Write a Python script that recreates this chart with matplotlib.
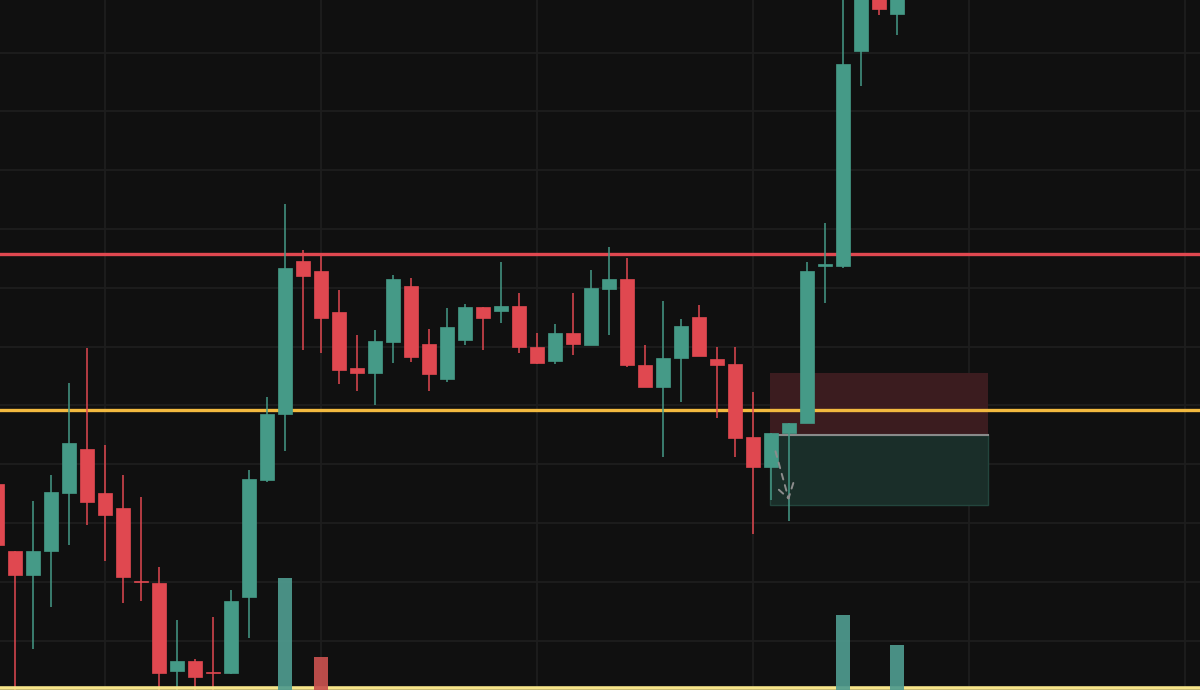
import matplotlib

matplotlib.use("Agg")
import matplotlib.pyplot as plt
import numpy as np
from matplotlib.patches import Rectangle

# OHLC values (price units, gridlines every 10)
opens = [1026.7, 1015.2, 1011.1, 1015.3, 1025.1, 1032.6, 1025.1, 1022.6, 1010.2, 1009.8,
         994.9, 996.6, 994.7, 994.5, 1007.4, 1027.4, 1038.5, 1064.6, 1062.8, 1055.9,
         1046.4, 1045.5, 1050.8, 1060.4, 1050.5, 1044.5, 1051.2, 1056.8, 1056.1, 1057.0,
         1050.0, 1047.6, 1052.4, 1050.3, 1059.8, 1061.5, 1046.9, 1043.2, 1048.0, 1055.1,
         1047.9, 1047.1, 1034.6, 1029.6, 1035.4, 1037.1, 1063.8, 1063.8, 1100.3, 1112.4,
         1106.6]
highs = [1027.7, 1015.3, 1023.8, 1028.1, 1043.8, 1049.8, 1033.3, 1028.2, 1024.5, 1012.5,
         1003.6, 996.9, 1004.1, 1008.7, 1029.1, 1041.4, 1074.3, 1066.4, 1065.6, 1059.6,
         1052.0, 1052.8, 1062.2, 1061.7, 1053.0, 1056.6, 1057.2, 1056.8, 1064.4, 1059.2,
         1052.4, 1053.9, 1059.2, 1063.1, 1067.0, 1065.0, 1050.3, 1057.8, 1054.7, 1057.1,
         1049.9, 1049.9, 1042.3, 1035.4, 1037.1, 1064.4, 1071.1, 1111.0, 1119.0, 1114.1,
         1114.0]
lows = [1015.1, 990.0, 998.6, 1005.8, 1016.3, 1019.6, 1013.6, 1006.4, 1006.7, 986.6,
        990.0, 990.0, 990.0, 994.4, 1000.5, 1027.0, 1032.2, 1049.4, 1049.0, 1043.6,
        1042.4, 1040.0, 1047.3, 1047.4, 1042.4, 1044.0, 1050.2, 1049.5, 1054.0, 1049.0,
        1047.0, 1047.0, 1048.6, 1050.3, 1052.0, 1046.6, 1043.2, 1031.3, 1040.6, 1048.4,
        1037.9, 1031.3, 1018.1, 1024.0, 1020.3, 1037.1, 1057.5, 1063.3, 1094.4, 1106.4,
        1103.0]
closes = [1016.3, 1011.1, 1015.3, 1025.2, 1033.6, 1023.6, 1021.4, 1010.8, 1009.9, 994.5,
          996.5, 993.9, 994.5, 1006.7, 1027.5, 1038.5, 1063.3, 1062.1, 1054.9, 1046.0,
          1045.6, 1051.0, 1061.5, 1048.3, 1045.3, 1053.3, 1056.8, 1054.9, 1057.0, 1049.9,
          1047.3, 1052.4, 1050.4, 1060.0, 1061.5, 1046.8, 1043.2, 1048.1, 1053.6, 1048.4,
          1046.9, 1034.5, 1029.6, 1035.4, 1037.1, 1062.8, 1064.0, 1098.1, 1115.8, 1107.4,
          1112.0]

# only the volume bars that rise above the bottom edge are visible
volume_index = [16, 18, 47, 50]
volume_values = [11200, 3300, 7500, 4500]

resistance = 1065.8
support = 1039.2
floor_level = 992.0

# long position tool
position_start = 42.95
position_end = 55.05
stop_level = 1045.6
entry_level = 1034.9
target_level = 1023.1

BG = "#101010"
GRID = "#1e1e1e"
UP = "#459a87"
DOWN = "#e04850"
UP_VOL = "#4f9b8f"
DOWN_VOL = "#c9514f"

fig = plt.figure(figsize=(12, 6.9), dpi=100)
fig.patch.set_facecolor(BG)
ax = fig.add_axes([0, 0, 1, 1])
ax.set_facecolor(BG)

ax.set_xlim(0.1667, 66.833)
ax.set_ylim(991.61, 1108.96)
ax.set_xticks(np.arange(6, 67, 12))
ax.set_yticks(np.arange(1000, 1101, 10))
ax.grid(True, color=GRID, linewidth=1.3)
ax.tick_params(length=0, labelbottom=False, labelleft=False)
for spine in ax.spines.values():
    spine.set_visible(False)
ax.set_axisbelow(True)

# position boxes
ax.add_patch(Rectangle((position_start, entry_level), position_end - position_start,
                       stop_level - entry_level, facecolor="#3b1c1f", edgecolor="none",
                       zorder=1))
ax.add_patch(Rectangle((position_start, target_level), position_end - position_start,
                       entry_level - target_level, facecolor="#1a2e29", edgecolor="#23453d",
                       linewidth=1, zorder=1))
ax.plot([position_start, position_end], [entry_level, entry_level], color="#8a8a8a",
        linewidth=1.5, zorder=1.5)

# horizontal levels
ax.axhline(resistance, color=DOWN, linewidth=2.4, zorder=2)
ax.axhline(support, color="#f2b93f", linewidth=2.4, zorder=2)

# candles
x = np.arange(len(opens))
o = np.array(opens)
c = np.array(closes)
colors = [UP if cc >= oo else DOWN for oo, cc in zip(o, c)]
ax.vlines(x, lows, highs, colors=colors, linewidth=1.1, zorder=3)
body_low = np.minimum(o, c)
body_h = np.maximum(np.abs(c - o), 0.2)
ax.bar(x, body_h, bottom=body_low, width=0.78, color=colors, edgecolor=colors,
       linewidth=0.5, zorder=4)

# dashed arrow inside the position box
ax.annotate("", xy=(44.0, 1023.9), xytext=(43.25, 1032.2),
            arrowprops=dict(arrowstyle="->,head_length=0.7,head_width=0.45",
                            color="#8c8c8c", lw=1.4, linestyle=(0, (3, 3)),
                            shrinkA=0, shrinkB=0, mutation_scale=14),
            zorder=5)

# bottom line
ax.axhline(floor_level, color="#f6e58a", linewidth=2.6, zorder=5)

# volume on its own scale
vax = ax.twinx()
vax.set_ylim(0, 69000)
vax.axis("off")
vol_colors = [UP_VOL if closes[i] >= opens[i] else DOWN_VOL for i in volume_index]
vax.bar(volume_index, volume_values, width=0.82, color=vol_colors, alpha=0.92, zorder=6)

fig.savefig("out.png", dpi=100, facecolor=BG)
plt.close(fig)
